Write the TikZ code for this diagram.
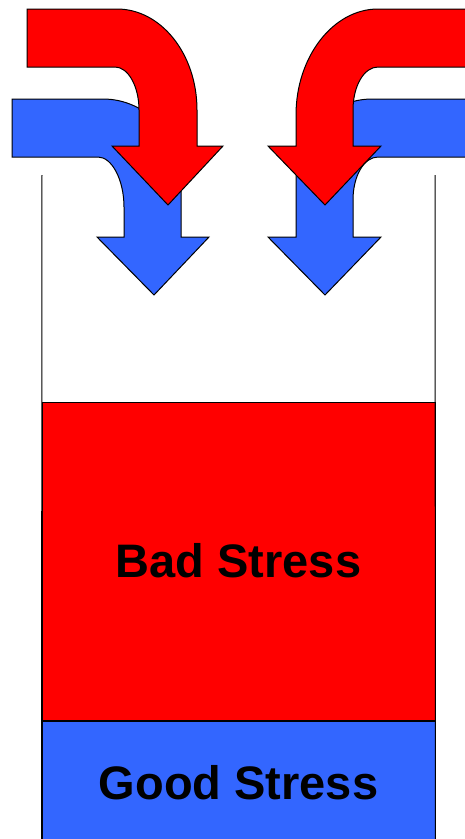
\documentclass[tikz,border=0pt]{standalone}
\usepackage{fontspec}
\setmainfont{Liberation Sans}
\usepackage{tikz}
\usetikzlibrary{positioning}
\definecolor{StressRed}{RGB}{255,0,0}
\definecolor{StressBlue}{RGB}{51,102,255}

\begin{document}
\begin{tikzpicture}[x=1pt, y=-1pt,
	flow/.style={draw=black, line width=1pt, line join=miter},
	box/.style={rectangle, draw=black, line width=1pt, minimum width=393pt, inner sep=0pt,
		font=\fontsize{47}{56}\selectfont\bfseries},
	wall/.style={line width=1pt, black}]
	\useasboundingbox (0,0) rectangle (465,839);
	% container
	\node[box, fill=StressRed, minimum height=318pt] (bad) at (238.5,561) {Bad Stress};
	\node[box, fill=StressBlue, minimum height=125pt, below=0pt of bad] (good) {};
	\node (goodtxt) at (238.5,783) {\fontsize{47}{56}\selectfont\bfseries Good Stress};
	\coordinate (lt) at (42,175);
	\coordinate (rt) at (435,175);
	\draw[wall] (lt) -- (good.south west);
	\draw[wall] (rt) -- (good.south east);
	% left arrows
	\filldraw[flow, fill=StressBlue] (12,99) -- (103,99)
		.. controls (146,99) and (181,136) .. (181,180) -- (181,237) -- (209,237) -- (154,295)
		-- (97,237) -- (124,237) -- (124,207) .. controls (124,180) and (112,157) .. (98,157)
		-- (12,157) -- cycle;
	\filldraw[flow, fill=StressRed] (27,9) -- (117,9)
		.. controls (161,9) and (197,54) .. (197,110) -- (197,146) -- (223,146) -- (168,205)
		-- (112,146) -- (139,146) -- (139,110) .. controls (139,86) and (128,67) .. (115,67)
		-- (27,67) -- cycle;
	% right arrows
	\filldraw[flow, fill=StressBlue] (470,99) -- (372,99)
		.. controls (330,99) and (296,135) .. (296,180) -- (296,237) -- (268,237) -- (325,295)
		-- (381,237) -- (353,237) -- (353,200) .. controls (353,176) and (364,157) .. (378,157)
		-- (470,157) -- cycle;
	\filldraw[flow, fill=StressRed] (470,9) -- (378,9)
		.. controls (333,9) and (296,57) .. (296,115) -- (296,146) -- (268,146) -- (325,205)
		-- (381,146) -- (353,146) -- (353,110) .. controls (353,86) and (364,67) .. (378,67)
		-- (470,67) -- cycle;
\end{tikzpicture}
\end{document}
